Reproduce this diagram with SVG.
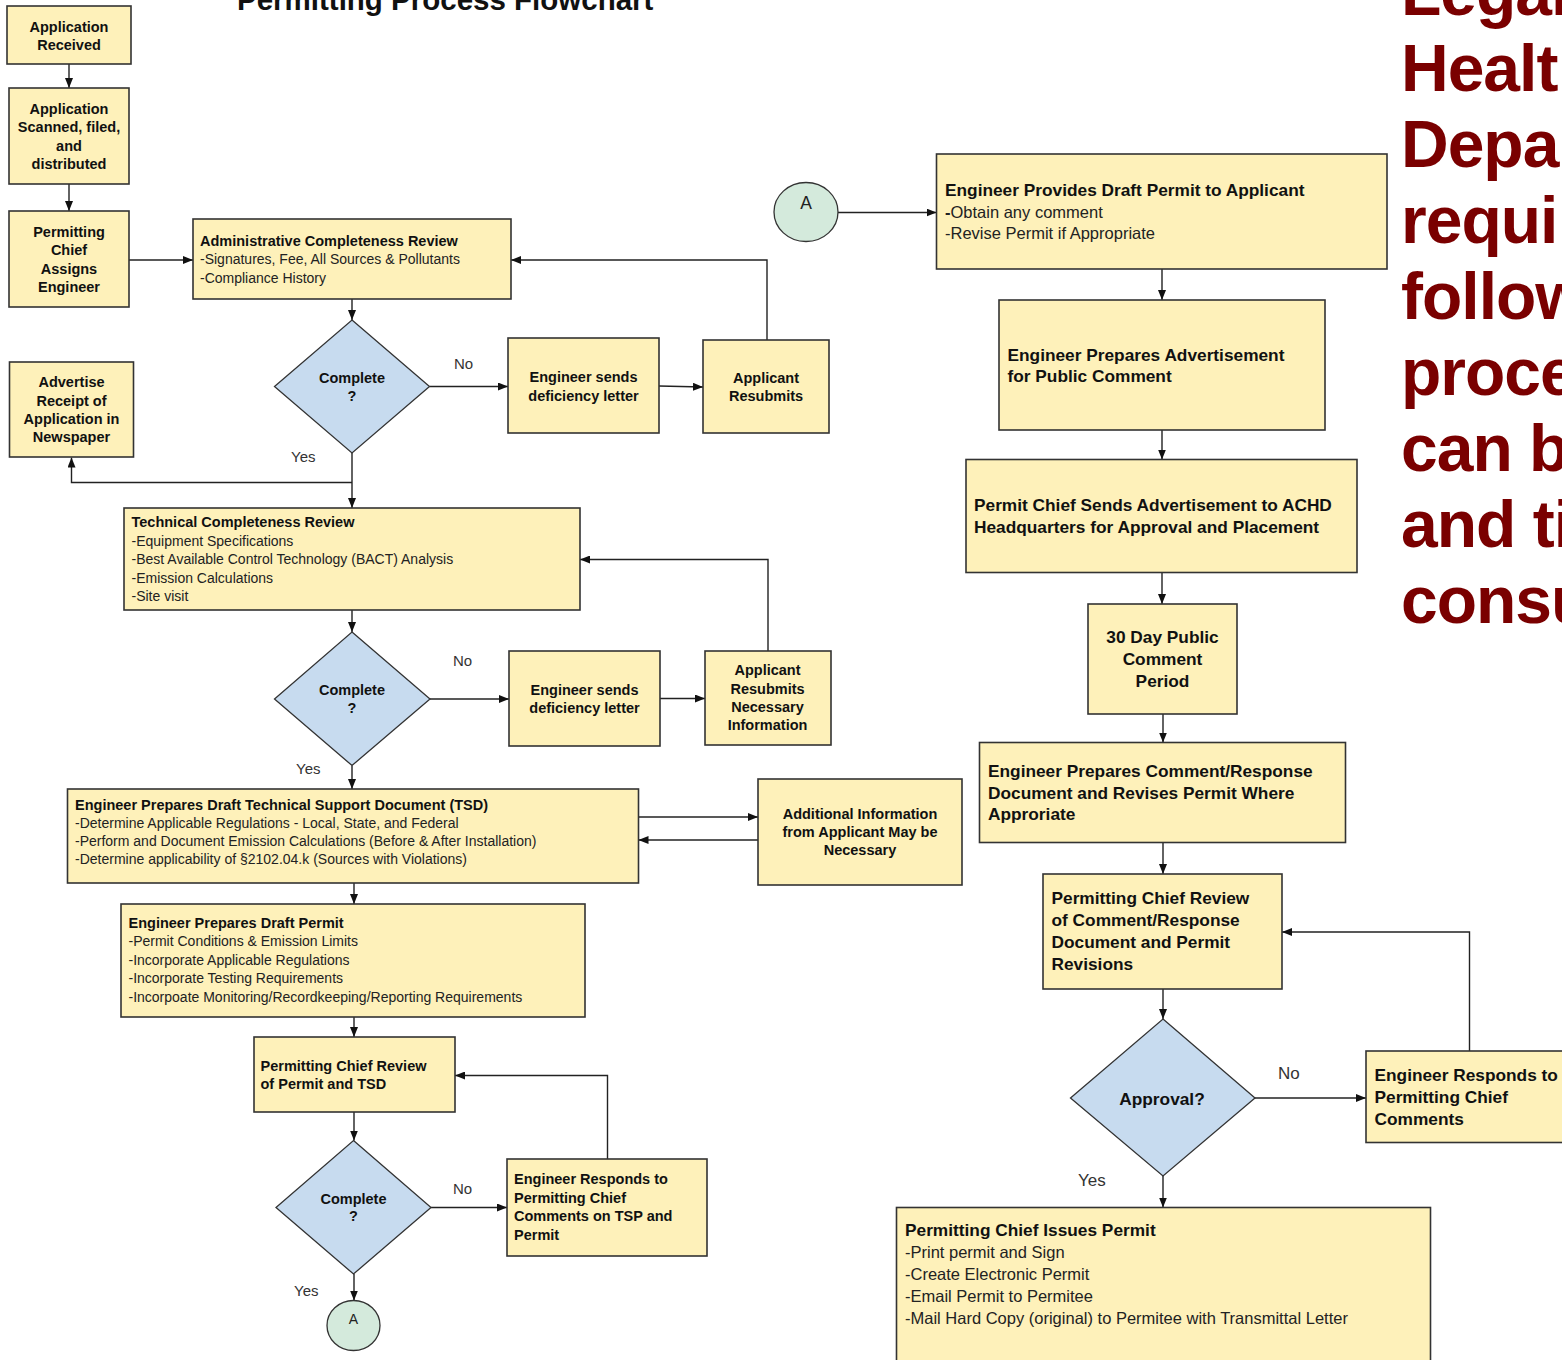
<svg xmlns="http://www.w3.org/2000/svg" width="1562" height="1360" viewBox="0 0 1562 1360">
<defs>
<marker id="ah" markerUnits="userSpaceOnUse" markerWidth="10" markerHeight="8" viewBox="0 0 10 8" refX="10" refY="4" orient="auto">
<path d="M0,0 L10,4 L0,8 z" fill="#111"/>
</marker>
<style>
.box{fill:#FEF1BA;stroke:#333;stroke-width:1.6}
.dia{fill:#C7DBEF;stroke:#333;stroke-width:1.3}
.circ{fill:#D4EADC;stroke:#333;stroke-width:1.3}
.con{fill:none;stroke:#222;stroke-width:1.4;marker-end:url(#ah)}
.b{font-family:"Liberation Sans",Arial,sans-serif;font-weight:bold;font-size:14.5px;fill:#111}
.r{font-family:"Liberation Sans",Arial,sans-serif;font-size:14px;fill:#222}
.B{font-family:"Liberation Sans",Arial,sans-serif;font-weight:bold;font-size:17.3px;fill:#111}
.R{font-family:"Liberation Sans",Arial,sans-serif;font-size:16.5px;fill:#222}
.lbl{font-family:"Liberation Sans",Arial,sans-serif;font-size:15px;fill:#333}
.LBL{font-family:"Liberation Sans",Arial,sans-serif;font-size:17px;fill:#333}
.c{text-anchor:middle}
.red{font-family:"Liberation Sans",Arial,sans-serif;font-weight:bold;font-size:66px;fill:#7A0000;letter-spacing:-1px}
.title{font-family:"Liberation Sans",Arial,sans-serif;font-weight:bold;font-size:29.5px;fill:#111}
</style>
</defs>
<rect width="1562" height="1360" fill="#FFFFFF"/>
<text class="title" x="237" y="9.5">Permitting Process Flowchart</text>
<g id="sidetext">
<text class="red" x="1401" y="14.5">Legal</text>
<text class="red" x="1401" y="90.5">Healt</text>
<text class="red" x="1401" y="166.5">Depar</text>
<text class="red" x="1401" y="242.5">requi</text>
<text class="red" x="1401" y="318.5">follow</text>
<text class="red" x="1401" y="394.5">proce</text>
<text class="red" x="1401" y="470.5">can b</text>
<text class="red" x="1401" y="546.5">and ti</text>
<text class="red" x="1401" y="622.5">consu</text>
</g>
<g id="connectors">
<path class="con" d="M69,64 V88"/>
<path class="con" d="M69,184 V211"/>
<path class="con" d="M129,260 H193"/>
<path class="con" d="M352,299 V320"/>
<path class="con" d="M429.5,386.5 H508"/>
<path class="con" d="M659,386 L703,387"/>
<path class="con" d="M767,340 V260 H511"/>
<path class="con" d="M352,453 V508"/>
<path class="con" d="M352,482.5 H71.5 V457.5"/>
<path class="con" d="M352,610 V632"/>
<path class="con" d="M430,699 H509"/>
<path class="con" d="M660,698.5 H705"/>
<path class="con" d="M768,651 V559.5 H580"/>
<path class="con" d="M352,765.5 V789"/>
<path class="con" d="M638.5,817 H758"/>
<path class="con" d="M758,840 H638.5"/>
<path class="con" d="M354,883 V904"/>
<path class="con" d="M354,1017 V1037"/>
<path class="con" d="M607.5,1159 V1075.5 H455"/>
<path class="con" d="M354,1112 V1140.5"/>
<path class="con" d="M431,1207.5 H507"/>
<path class="con" d="M354,1274 V1300.5"/>
<path class="con" d="M838,212.5 H936.5"/>
<path class="con" d="M1162,269 V300"/>
<path class="con" d="M1162,430 V459.5"/>
<path class="con" d="M1162,572.5 V604"/>
<path class="con" d="M1163,714 V742.5"/>
<path class="con" d="M1163,842.5 V874"/>
<path class="con" d="M1163,989 V1019"/>
<path class="con" d="M1255,1098 H1366"/>
<path class="con" d="M1469.5,1051 V932 H1282"/>
<path class="con" d="M1163,1176 V1207.5"/>
</g>
<g id="labels">
<text class="lbl" x="454" y="369">No</text>
<text class="lbl" x="291" y="462">Yes</text>
<text class="lbl" x="453" y="666">No</text>
<text class="lbl" x="296" y="774">Yes</text>
<text class="lbl" x="453" y="1194">No</text>
<text class="lbl" x="294" y="1296">Yes</text>
<text class="LBL" x="1278" y="1079">No</text>
<text class="LBL" x="1078" y="1186">Yes</text>
</g>
<g id="n1"><rect class="box" x="7" y="6" width="124" height="58"/>
<text class="b c" x="69" y="32">Application</text><text class="b c" x="69" y="50">Received</text></g>
<g id="n2"><rect class="box" x="9" y="88" width="120" height="96"/>
<text class="b c" x="69" y="114">Application</text><text class="b c" x="69" y="132">Scanned, filed,</text><text class="b c" x="69" y="150.5">and</text><text class="b c" x="69" y="168.5">distributed</text></g>
<g id="n3"><rect class="box" x="9" y="211" width="120" height="96"/>
<text class="b c" x="69" y="237">Permitting</text><text class="b c" x="69" y="255">Chief</text><text class="b c" x="69" y="273.5">Assigns</text><text class="b c" x="69" y="292">Engineer</text></g>
<g id="n4"><rect class="box" x="193" y="219" width="318" height="80"/>
<text class="b" x="200" y="246">Administrative Completeness Review</text>
<text class="r" x="200" y="264">-Signatures, Fee, All Sources &amp; Pollutants</text>
<text class="r" x="200" y="282.5">-Compliance History</text></g>
<g id="n5"><rect class="box" x="9.5" y="362" width="124" height="95"/>
<text class="b c" x="71.5" y="387">Advertise</text><text class="b c" x="71.5" y="405.5">Receipt of</text><text class="b c" x="71.5" y="424">Application in</text><text class="b c" x="71.5" y="442">Newspaper</text></g>
<g id="d1"><polygon class="dia" points="352,320 429.5,386.5 352,453 274.5,386.5"/>
<text class="b c" x="352" y="383">Complete</text><text class="b c" x="352" y="401">?</text></g>
<g id="n6"><rect class="box" x="508" y="338" width="151" height="95"/>
<text class="b c" x="583.5" y="382">Engineer sends</text><text class="b c" x="583.5" y="400.5">deficiency letter</text></g>
<g id="n7"><rect class="box" x="703" y="340" width="126" height="93"/>
<text class="b c" x="766" y="383">Applicant</text><text class="b c" x="766" y="401">Resubmits</text></g>
<g id="n8"><rect class="box" x="124" y="508" width="456" height="102"/>
<text class="b" x="131.5" y="527">Technical Completeness Review</text>
<text class="r" x="131.5" y="546">-Equipment Specifications</text>
<text class="r" x="131.5" y="564">-Best Available Control Technology (BACT) Analysis</text>
<text class="r" x="131.5" y="582.5">-Emission Calculations</text>
<text class="r" x="131.5" y="601">-Site visit</text></g>
<g id="d2"><polygon class="dia" points="352,632 430,699 352,765.5 274.5,699"/>
<text class="b c" x="352" y="695">Complete</text><text class="b c" x="352" y="713">?</text></g>
<g id="n9"><rect class="box" x="509" y="651" width="151" height="95"/>
<text class="b c" x="584.5" y="695">Engineer sends</text><text class="b c" x="584.5" y="713">deficiency letter</text></g>
<g id="n10"><rect class="box" x="705" y="651" width="126" height="94"/>
<text class="b c" x="767.5" y="675">Applicant</text><text class="b c" x="767.5" y="693.5">Resubmits</text><text class="b c" x="767.5" y="712">Necessary</text><text class="b c" x="767.5" y="730">Information</text></g>
<g id="n11"><rect class="box" x="67.5" y="789" width="571" height="94"/>
<text class="b" x="75" y="810">Engineer Prepares Draft Technical Support Document (TSD)</text>
<text class="r" x="75" y="828">-Determine Applicable Regulations - Local, State, and Federal</text>
<text class="r" x="75" y="846">-Perform and Document Emission Calculations (Before &amp; After Installation)</text>
<text class="r" x="75" y="864">-Determine applicability of §2102.04.k (Sources with Violations)</text></g>
<g id="n12"><rect class="box" x="758" y="779" width="204" height="106"/>
<text class="b c" x="860" y="818.5">Additional Information</text><text class="b c" x="860" y="837">from Applicant May be</text><text class="b c" x="860" y="855">Necessary</text></g>
<g id="n13"><rect class="box" x="121" y="904" width="464" height="113"/>
<text class="b" x="128.5" y="928">Engineer Prepares Draft Permit</text>
<text class="r" x="128.5" y="946">-Permit Conditions &amp; Emission Limits</text>
<text class="r" x="128.5" y="964.5">-Incorporate Applicable Regulations</text>
<text class="r" x="128.5" y="983">-Incorporate Testing Requirements</text>
<text class="r" x="128.5" y="1001.5">-Incorpoate Monitoring/Recordkeeping/Reporting Requirements</text></g>
<g id="n14"><rect class="box" x="254" y="1037" width="201" height="75"/>
<text class="b" x="260.5" y="1071">Permitting Chief Review</text><text class="b" x="260.5" y="1089">of Permit and TSD</text></g>
<g id="d3"><polygon class="dia" points="353.5,1140.5 431,1207.5 353.5,1274 276,1207.5"/>
<text class="b c" x="353.5" y="1203.5">Complete</text><text class="b c" x="353.5" y="1221">?</text></g>
<g id="n15"><rect class="box" x="507" y="1159" width="200" height="97"/>
<text class="b" x="514" y="1184">Engineer Responds to</text><text class="b" x="514" y="1202.5">Permitting Chief</text><text class="b" x="514" y="1221">Comments on TSP and</text><text class="b" x="514" y="1239.5">Permit</text></g>
<g id="a1"><ellipse class="circ" cx="353.5" cy="1325.5" rx="26.5" ry="25"/>
<text class="r c" x="353.5" y="1323.5">A</text></g>
<g id="a2"><ellipse class="circ" cx="806" cy="212" rx="32" ry="29.5"/>
<text class="R c" x="806" y="209" style="font-size:17.5px">A</text></g>
<g id="n16"><rect class="box" x="936.5" y="154" width="450.5" height="115"/>
<text class="B" x="945" y="195.5">Engineer Provides Draft Permit to Applicant</text>
<text class="R" x="945" y="217.5"><tspan font-weight="bold">-</tspan>Obtain any comment</text>
<text class="R" x="945" y="239">-Revise Permit if Appropriate</text></g>
<g id="n17"><rect class="box" x="999" y="300" width="326" height="130"/>
<text class="B" x="1007.5" y="360.5">Engineer Prepares Advertisement</text><text class="B" x="1007.5" y="381.5">for Public Comment</text></g>
<g id="n18"><rect class="box" x="966" y="459.5" width="391" height="113"/>
<text class="B" x="974" y="511">Permit Chief Sends Advertisement to ACHD</text><text class="B" x="974" y="532.5">Headquarters for Approval and Placement</text></g>
<g id="n19"><rect class="box" x="1088" y="604" width="149" height="110"/>
<text class="B c" x="1162.5" y="642.5">30 Day Public</text><text class="B c" x="1162.5" y="665">Comment</text><text class="B c" x="1162.5" y="687">Period</text></g>
<g id="n20"><rect class="box" x="979.5" y="742.5" width="366" height="100"/>
<text class="B" x="988" y="776.5">Engineer Prepares Comment/Response</text><text class="B" x="988" y="798.5">Document and Revises Permit Where</text><text class="B" x="988" y="820">Approriate</text></g>
<g id="n21"><rect class="box" x="1043" y="874" width="239" height="115"/>
<text class="B" x="1051.5" y="903.5">Permitting Chief Review</text><text class="B" x="1051.5" y="925.5">of Comment/Response</text><text class="B" x="1051.5" y="947.5">Document and Permit</text><text class="B" x="1051.5" y="969.5">Revisions</text></g>
<g id="d4"><polygon class="dia" points="1163,1019 1255,1098 1163,1176 1070.5,1098"/>
<text class="B c" x="1162" y="1104.5">Approval?</text></g>
<g id="n22"><rect class="box" x="1366" y="1051" width="210" height="91.5"/>
<text class="B" x="1374.5" y="1081">Engineer Responds to</text><text class="B" x="1374.5" y="1103">Permitting Chief</text><text class="B" x="1374.5" y="1124.5">Comments</text></g>
<g id="n23"><rect class="box" x="896.5" y="1207.5" width="534" height="170"/>
<text class="B" x="905" y="1236">Permitting Chief Issues Permit</text>
<text class="R" x="905" y="1258">-Print permit and Sign</text>
<text class="R" x="905" y="1280">-Create Electronic Permit</text>
<text class="R" x="905" y="1302">-Email Permit to Permitee</text>
<text class="R" x="905" y="1324">-Mail Hard Copy (original) to Permitee with Transmittal Letter</text></g>
</svg>
